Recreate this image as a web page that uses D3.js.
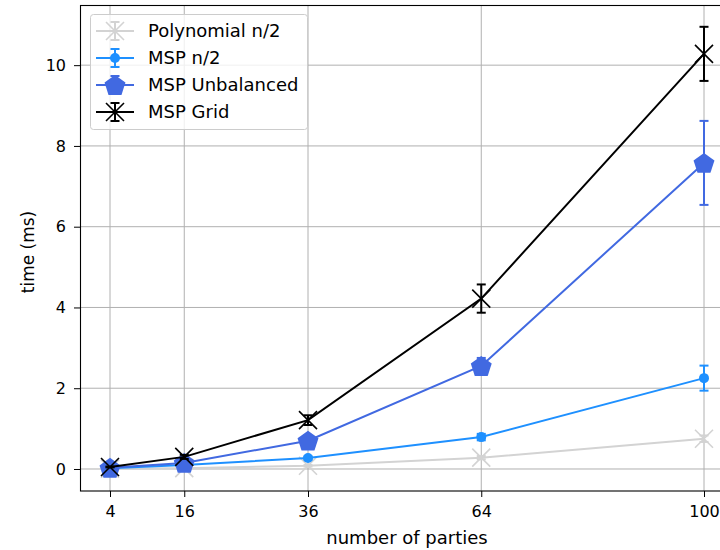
<!DOCTYPE html>
<html><head><meta charset="utf-8">
<script src="https://cdn.jsdelivr.net/npm/d3@7"></script>
<style>body{margin:0;background:#fff}svg{display:block}text{font-family:"DejaVu Sans",sans-serif}</style>
</head><body><svg id="c" width="720" height="550"></svg>
<script>
const parties = [4, 16, 36, 64, 100];
const yTicks = [0, 2, 4, 6, 8, 10];
const polyMean = [0.01, 0.02, 0.08, 0.28, 0.75];
const polyErr  = [0.005, 0.01, 0.02, 0.04, 0.08];
const n2Mean   = [0.02, 0.10, 0.27, 0.79, 2.25];
const n2Err    = [0.005, 0.02, 0.04, 0.08, 0.31];
const unbMean  = [0.03, 0.15, 0.70, 2.55, 7.58];
const unbErr   = [0.01, 0.04, 0.10, 0.20, 1.04];
const gridMean = [0.05, 0.30, 1.21, 4.22, 10.28];
const gridErr  = [0.01, 0.05, 0.12, 0.35, 0.67];
const seriesNames = ["Polynomial n/2", "MSP n/2", "MSP Unbalanced", "MSP Grid"];

const series = [
  {name: seriesNames[0], mean: polyMean, err: polyErr, color: "#d3d3d3", marker: "x", size: 9},
  {name: seriesNames[1], mean: n2Mean, err: n2Err, color: "#1e90ff", marker: "o", size: 5},
  {name: seriesNames[2], mean: unbMean, err: unbErr, color: "#4169e1", marker: "p", size: 11},
  {name: seriesNames[3], mean: gridMean, err: gridErr, color: "#000000", marker: "x", size: 9}
];

const svg = d3.select("#c");
const x = d3.scaleLinear().domain([-0.8, 104.8]).range([80.3, 733.7]);
const y = d3.scaleLinear().domain([-0.545, 11.49]).range([491, 5]);

// grid
const g = svg.append("g");
g.selectAll(".gx").data(parties).join("line")
  .attr("x1", d => x(d)).attr("x2", d => x(d)).attr("y1", 5).attr("y2", 491)
  .attr("stroke", "#b0b0b0").attr("stroke-width", 1);
g.selectAll(".gy").data(yTicks).join("line")
  .attr("y1", d => y(d)).attr("y2", d => y(d)).attr("x1", 80).attr("x2", 734)
  .attr("stroke", "#b0b0b0").attr("stroke-width", 1);

// axes
const xa = svg.append("g").attr("transform", "translate(0,491)")
  .call(d3.axisBottom(x).tickValues(parties).tickSize(6).tickPadding(9).tickFormat(d3.format("d")));
const ya = svg.append("g").attr("transform", "translate(80,0)")
  .call(d3.axisLeft(y).tickValues(yTicks).tickSize(6).tickPadding(8).tickFormat(d3.format("d")));
[xa, ya].forEach(a => {
  a.select(".domain").remove();
  a.selectAll("text").attr("font-size", 16).attr("fill", "#000").style("font-family", "DejaVu Sans");
  a.selectAll("line").attr("stroke", "#000").attr("stroke-width", 1);
});
// spines
svg.append("rect").attr("x", 80.5).attr("y", 5.5).attr("width", 700).attr("height", 485.5)
  .attr("fill", "none").attr("stroke", "#000").attr("stroke-width", 1.1);

function pentagon(r) {
  const pts = d3.range(5).map(i => {
    const a = -Math.PI / 2 + i * 2 * Math.PI / 5;
    return [r * Math.cos(a), r * Math.sin(a)];
  });
  return "M" + pts.map(p => p.join(",")).join("L") + "Z";
}
function drawMarker(sel, s) {
  if (s.marker === "x") {
    const r = s.size;
    sel.append("path").attr("d", `M${-r},${-r}L${r},${r}M${-r},${r}L${r},${-r}`)
      .attr("stroke", s.color).attr("stroke-width", 1.6).attr("fill", "none");
  } else if (s.marker === "o") {
    sel.append("circle").attr("r", s.size).attr("fill", s.color);
  } else {
    sel.append("path").attr("d", pentagon(s.size)).attr("fill", s.color).attr("transform", "translate(0,1)");
  }
}

const line = d3.line().x(d => x(d[0])).y(d => y(d[1]));
series.forEach(s => {
  const sg = svg.append("g");
  const pts = parties.map((p, i) => [p, s.mean[i], s.err[i]]);
  pts.forEach(d => {
    sg.append("line").attr("x1", x(d[0])).attr("x2", x(d[0]))
      .attr("y1", y(d[1] - d[2])).attr("y2", y(d[1] + d[2]))
      .attr("stroke", s.color).attr("stroke-width", 2);
    [d[1] - d[2], d[1] + d[2]].forEach(v => {
      sg.append("line").attr("x1", x(d[0]) - 4.5).attr("x2", x(d[0]) + 4.5)
        .attr("y1", y(v)).attr("y2", y(v)).attr("stroke", s.color).attr("stroke-width", 2);
    });
  });
  sg.append("path").datum(pts).attr("d", line).attr("fill", "none")
    .attr("stroke", s.color).attr("stroke-width", 2);
  pts.forEach(d => {
    drawMarker(sg.append("g").attr("transform", `translate(${x(d[0])},${y(d[1])})`), s);
  });
});

// legend
const lg = svg.append("g");
lg.append("rect").attr("x", 90.5).attr("y", 14.5).attr("width", 217).attr("height", 115).attr("rx", 3)
  .attr("fill", "#fff").attr("fill-opacity", 0.8).attr("stroke", "#cccccc");
series.forEach((s, i) => {
  const cy = 31 + i * 27;
  const e = lg.append("g").attr("transform", `translate(0,${cy})`);
  e.append("line").attr("x1", 96).attr("x2", 134).attr("y1", 0).attr("y2", 0)
    .attr("stroke", s.color).attr("stroke-width", 2);
  e.append("line").attr("x1", 115).attr("x2", 115).attr("y1", -9).attr("y2", 9)
    .attr("stroke", s.color).attr("stroke-width", 2);
  [-9, 9].forEach(v => e.append("line").attr("x1", 110.5).attr("x2", 119.5).attr("y1", v).attr("y2", v)
    .attr("stroke", s.color).attr("stroke-width", 2));
  drawMarker(e.append("g").attr("transform", "translate(115,0)"), s);
  e.append("text").attr("x", 148).attr("y", 0).attr("dy", "0.36em").attr("font-size", 18)
    .attr("fill", "#000").text(s.name);
});

// axis labels
svg.append("text").attr("x", 407).attr("y", 544).attr("text-anchor", "middle")
  .attr("font-size", 18).attr("fill", "#000").text("number of parties");
svg.append("text").attr("transform", "translate(34,252) rotate(-90)").attr("text-anchor", "middle")
  .attr("font-size", 17).attr("fill", "#000").text("time (ms)");
</script></body></html>
